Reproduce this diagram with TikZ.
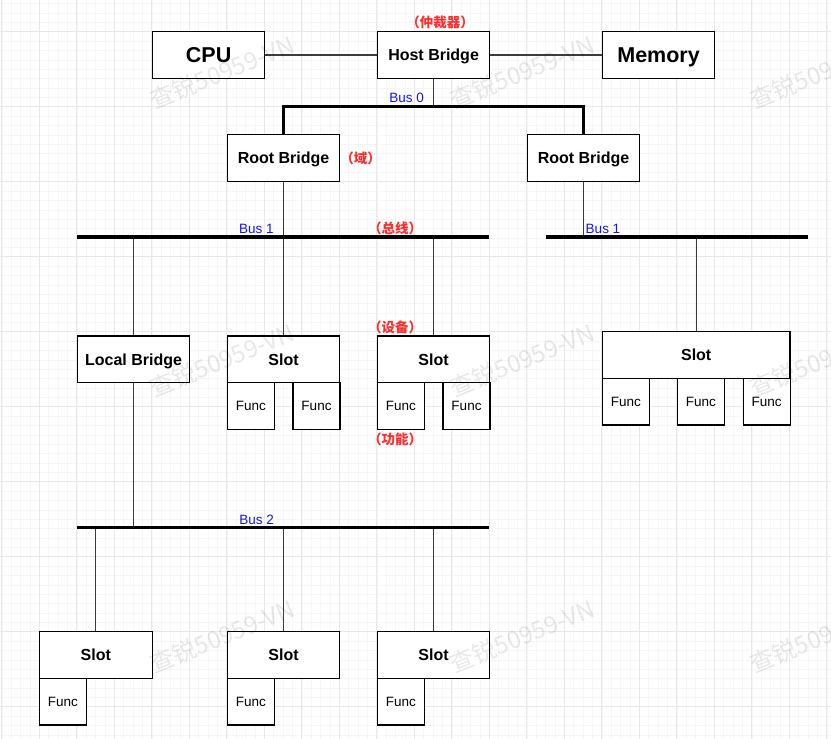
\documentclass[tikz,border=0pt]{standalone}
\usepackage{fontspec}
\setmainfont{Liberation Sans}
\newfontfamily\cjk{Noto Sans CJK SC}
\definecolor{busblue}{RGB}{20,20,240}
\definecolor{notered}{RGB}{255,45,45}
\definecolor{gridminor}{RGB}{246,246,246}
\definecolor{gridmajor}{RGB}{232,232,232}
\definecolor{linegray}{RGB}{60,60,60}
\begin{document}
\begin{tikzpicture}[x=1pt,y=-1pt,
  boxst/.style={draw=black, line width=1.2pt, fill=white, inner sep=0pt,
    minimum width=112.5pt, minimum height=46.7pt, text height=11.5pt, text depth=0pt,
    font=\bfseries\fontsize{16}{16}\selectfont},
  bigbox/.style={boxst, text height=15.4pt, font=\bfseries\fontsize{21.5}{22}\selectfont},
  funcbox/.style={draw=black, line width=1.2pt, fill=white, inner sep=0pt,
    minimum width=47pt, minimum height=46.7pt, text height=9.7pt, text depth=0pt,
    font=\fontsize{13.5}{14}\selectfont},
  conn/.style={draw=linegray, line width=1.2pt},
  busline/.style={draw=black, line width=3.6pt},
  buslabel/.style={text=busblue, font=\fontsize{13.5}{14}\selectfont, inner sep=0pt,
    text height=9.7pt, text depth=0pt},
  note/.style={text=notered, font=\cjk\bfseries\fontsize{13.5}{14}\selectfont, inner sep=0pt,
    text height=11.2pt, text depth=1pt},
  wmark/.style={text=black, opacity=0.09, rotate=22, inner sep=0pt,
    font=\cjk\fontsize{24}{24}\selectfont}
]
\useasboundingbox (0,0) rectangle (831,739);
\fill[white] (0,0) rectangle (831,739);
% grid
\foreach \i in {0,...,88} {
  \draw[gridminor, line width=0.6pt] (1.8+\i*9.375,0) -- (1.8+\i*9.375,739);
}
\foreach \i in {0,...,79} {
  \draw[gridminor, line width=0.6pt] (0,3.575+\i*9.375) -- (831,3.575+\i*9.375);
}
\foreach \i in {0,...,22} {
  \draw[gridmajor, line width=0.8pt] (1.8+\i*37.5,0) -- (1.8+\i*37.5,739);
}
\foreach \i in {0,...,9} {
  \draw[gridmajor, line width=0.8pt] (0,31.7+\i*75) -- (831,31.7+\i*75);
}

% nodes
\node[bigbox] (cpu) at (208.6,55) {CPU};
\node[boxst] (host) at (433.6,55) {Host Bridge};
\node[bigbox] (mem) at (658.6,55) {Memory};
\node[boxst] (rb1) at (283.6,158) {Root Bridge};
\node[boxst] (rb2) at (583.6,158) {Root Bridge};
\node[boxst] (lb) at (133.6,359.3) {Local Bridge};
\node[boxst] (sa) at (283.6,359.3) {Slot};
\node[boxst] (sb) at (433.6,359.3) {Slot};
\node[boxst, minimum width=187.7pt] (sr) at (696.2,355) {Slot};
\node[boxst, minimum width=113pt] (s1) at (95.8,655) {Slot};
\node[boxst] (s2) at (283.6,655) {Slot};
\node[boxst] (s3) at (433.6,655) {Slot};

\node[funcbox] (fa1) at (250.8,406) {Func};
\node[funcbox] (fa2) at (316.5,406) {Func};
\node[funcbox] (fb1) at (400.8,406) {Func};
\node[funcbox] (fb2) at (466.5,406) {Func};
\node[funcbox] (fr1) at (625.8,401.7) {Func};
\node[funcbox] (fr2) at (700.8,401.7) {Func};
\node[funcbox] (fr3) at (766.7,401.7) {Func};
\node[funcbox] (f1) at (62.8,701.7) {Func};
\node[funcbox] (f2) at (250.8,701.7) {Func};
\node[funcbox] (f3) at (400.8,701.7) {Func};

% bus coordinates
\coordinate (b0) at (433.6,106);
\coordinate (b1ls) at (77,237);
\coordinate (b1le) at (489.3,237);
\coordinate (b1rs) at (545.7,237);
\coordinate (b1re) at (808,237);
\coordinate (b2s) at (76.7,527.3);
\coordinate (b2e) at (489.3,527.3);

% connectors
\draw[conn] (cpu) -- (host);
\draw[conn] (host) -- (mem);
\draw[conn] (host.south) -- (b0);
\draw[conn] (rb1.south) -- (rb1.south |- b1ls);
\draw[conn] (rb2.south) -- (rb2.south |- b1rs);
\draw[conn] (lb.north |- b1ls) -- (lb.north);
\draw[conn] (sa.north |- b1ls) -- (sa.north);
\draw[conn] (sb.north |- b1ls) -- (sb.north);
\draw[conn] (sr.north |- b1rs) -- (sr.north);
\draw[conn] (lb.south) -- (lb.south |- b2s);
\draw[conn] (s1.north |- b2s) -- (s1.north);
\draw[conn] (s2.north |- b2s) -- (s2.north);
\draw[conn] (s3.north |- b2s) -- (s3.north);

% buses
\draw[busline, line width=3pt] (rb1.north) |- (b0) -| (rb2.north);
\draw[busline] (b1ls) -- (b1le);
\draw[busline] (b1rs) -- (b1re);
\draw[busline] (b2s) -- (b2e);

% bus labels
\node[buslabel] (l0) at (406.7,97.3) {Bus 0};
\node[buslabel] (l1a) at (256.3,228.3) {Bus 1};
\node[buslabel] (l1b) at (603,228.3) {Bus 1};
\node[buslabel] (l2) at (256.7,519.3) {Bus 2};

% notes
\node[note] (n1) at (440,22.3) {（仲裁器）};
\node[note] (n2) at (360.5,158.3) {（域）};
\node[note] (n3) at (395,228.3) {（总线）};
\node[note] (n4) at (395,327.3) {（设备）};
\node[note] (n5) at (395,439.3) {（功能）};

% watermarks
\foreach \wx in {222,522,822} {
  \foreach \wy in {72,360,636} {
    \node[wmark] at (\wx,\wy) {查锐50959-VN};
  }
}
\end{tikzpicture}
\end{document}
